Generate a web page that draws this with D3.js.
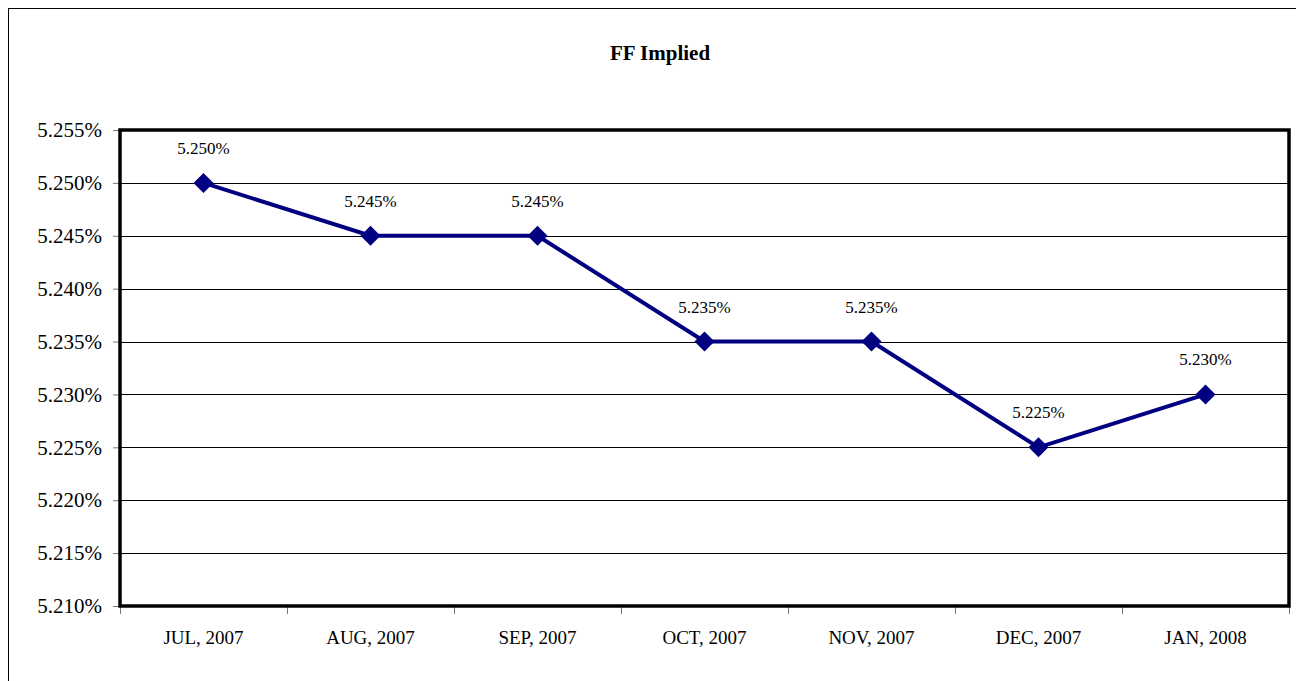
<!DOCTYPE html>
<html>
<head>
<meta charset="utf-8">
<script src="https://cdn.jsdelivr.net/npm/d3@7"></script>
<style>
  body { margin: 0; background: #fff; }
  svg, svg text { font-family: "Liberation Serif", "DejaVu Serif", serif; }
  svg { display: block; }
</style>
</head>
<body>
<div class="svg-container"></div>
<script>
const months = ["JUL, 2007", "AUG, 2007", "SEP, 2007", "OCT, 2007", "NOV, 2007", "DEC, 2007", "JAN, 2008"];
const implied = [5.250, 5.245, 5.245, 5.235, 5.235, 5.225, 5.230];
const yTicks = [5.210, 5.215, 5.220, 5.225, 5.230, 5.235, 5.240, 5.245, 5.250, 5.255];

const W = 1296, H = 681;
const margin = {top: 130, right: 7, bottom: 75, left: 120};
const width = 1289 - margin.left;
const height = 606 - margin.top;

const svg = d3.select('.svg-container')
  .append('svg')
  .attr('width', W)
  .attr('height', H);

// outer chart border (runs off right and bottom)
svg.append('rect')
  .attr('x', 8.5).attr('y', 8.5)
  .attr('width', W + 10).attr('height', H + 10)
  .attr('fill', 'none').attr('stroke', '#000').attr('stroke-width', 1);

svg.append('text')
  .attr('x', 660).attr('y', 60)
  .attr('text-anchor', 'middle')
  .style('font-size', '21px').style('font-weight', 'bold')
  .text('FF Implied');

const g = svg.append('g')
  .attr('transform', `translate(${margin.left}, ${margin.top})`);

const x = d3.scaleBand().domain(months).range([0, width]);
const y = d3.scaleLinear().domain([5.210, 5.255]).range([height, 0]);

// gridlines
g.selectAll('.grid')
  .data(yTicks.slice(1, -1))
  .enter().append('line')
    .attr('class', 'grid')
    .attr('x1', 0).attr('x2', width)
    .attr('y1', d => Math.round(y(d)) + 0.5)
    .attr('y2', d => Math.round(y(d)) + 0.5)
    .attr('stroke', '#000').attr('stroke-width', 1);

// y axis
const yAxis = g.append('g')
  .call(d3.axisLeft(y).tickValues(yTicks).tickSize(7).tickPadding(11)
    .tickFormat(d => d.toFixed(3) + '%'));
yAxis.attr('font-family', null);
yAxis.select('.domain').remove();
yAxis.selectAll('line').attr('stroke', '#777');
yAxis.selectAll('text').style('font-size', '21px').attr('fill', '#000');

// x axis: ticks on category boundaries
const xAxis = g.append('g')
  .attr('transform', `translate(0, ${height})`)
  .call(d3.axisBottom(x).tickSize(0).tickPadding(25));
xAxis.attr('font-family', null);
xAxis.select('.domain').remove();
xAxis.selectAll('text').style('font-size', '19px').attr('fill', '#000');

g.selectAll('.xtick')
  .data(months.concat(['end']))
  .enter().append('line')
    .attr('class', 'xtick')
    .attr('x1', (d, i) => Math.round(i * x.step()) + 0.5)
    .attr('x2', (d, i) => Math.round(i * x.step()) + 0.5)
    .attr('y1', height).attr('y2', height + 8)
    .attr('stroke', '#777');

// plot frame
g.append('rect')
  .attr('x', 0).attr('y', 0)
  .attr('width', width).attr('height', height)
  .attr('fill', 'none').attr('stroke', '#000').attr('stroke-width', 3.5);

const cx = d => x(d) + x.bandwidth() / 2;

const line = d3.line()
  .x((d, i) => cx(months[i]))
  .y(d => y(d));

g.append('path')
  .datum(implied)
  .attr('d', line)
  .attr('fill', 'none')
  .attr('stroke', '#000080')
  .attr('stroke-width', 4);

g.selectAll('.marker')
  .data(implied)
  .enter().append('path')
    .attr('class', 'marker')
    .attr('transform', (d, i) => `translate(${cx(months[i])}, ${y(d)})`)
    .attr('d', 'M0,-10L10,0L0,10L-10,0Z')
    .attr('fill', '#000080');

g.selectAll('.label')
  .data(implied)
  .enter().append('text')
    .attr('class', 'label')
    .attr('x', (d, i) => cx(months[i]))
    .attr('y', d => y(d) - 29)
    .attr('text-anchor', 'middle')
    .style('font-size', '17px')
    .text(d => d.toFixed(3) + '%');
</script>
</body>
</html>
